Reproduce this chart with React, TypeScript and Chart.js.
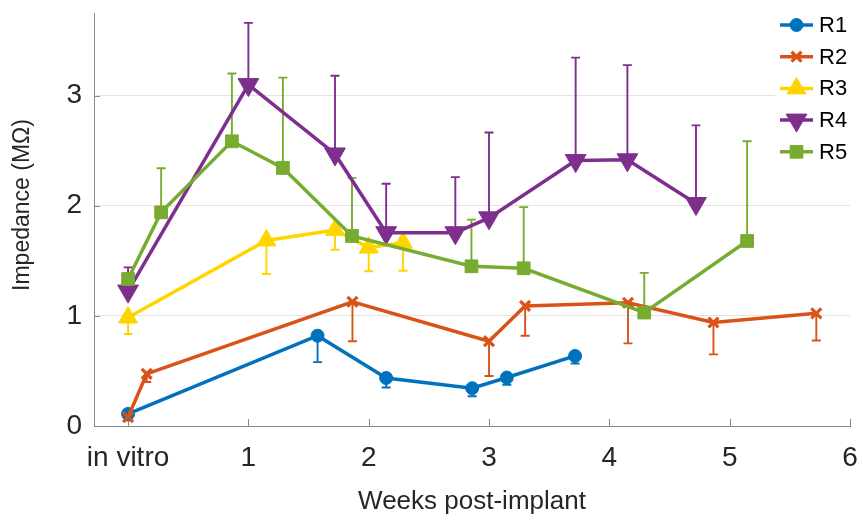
import { useEffect, useRef } from 'react';
import { Chart, registerables } from 'chart.js';
import { drawPoint } from 'chart.js/helpers';

Chart.register(...registerables);

// Axis ticks
const weekTicks = [0, 1, 2, 3, 4, 5, 6];
const weekTickLabels = ['in vitro', '1', '2', '3', '4', '5', '6'];
const impedanceTicks = [0, 1, 2, 3];

// R1: mean impedance (MΩ) and lower error end
const r1Weeks = [0, 1.575, 2.145, 2.86, 3.148, 3.715];
const r1Mean = [0.11, 0.82, 0.436, 0.343, 0.44, 0.636];
const r1ErrEnd = [0.09, 0.58, 0.35, 0.27, 0.375, 0.567];

// R2
const r2Weeks = [0, 0.155, 1.865, 3.0, 3.3, 4.155, 4.865, 5.72];
const r2Mean = [0.08, 0.474, 1.128, 0.77, 1.09, 1.119, 0.94, 1.023];
const r2ErrEnd = [0.05, 0.4, 0.77, 0.454, 0.82, 0.75, 0.65, 0.776];

// R3
const r3Weeks = [0, 1.15, 1.72, 2.0, 2.285];
const r3Mean = [0.985, 1.685, 1.78, 1.62, 1.665];
const r3ErrEnd = [0.835, 1.38, 1.6, 1.405, 1.41];

// R4: upper error end
const r4Weeks = [0, 1.0, 1.72, 2.145, 2.72, 3.0, 3.72, 4.15, 4.72];
const r4Mean = [1.225, 3.1, 2.47, 1.755, 1.755, 1.89, 2.41, 2.417, 2.02];
const r4ErrEnd = [1.44, 3.66, 3.18, 2.2, 2.26, 2.665, 3.345, 3.277, 2.73];

// R5
const r5Weeks = [0, 0.275, 0.863, 1.287, 1.861, 2.854, 3.288, 4.29, 5.145];
const r5Mean = [1.334, 1.94, 2.585, 2.343, 1.725, 1.45, 1.432, 1.03, 1.68];
const r5ErrEnd = [1.39, 2.34, 3.2, 3.163, 2.253, 1.874, 1.987, 1.39, 2.585];

const FONT = "'Liberation Sans', Arial, Helvetica, sans-serif";
const TEXT = '#262626';
const AXIS = '#8a8a8a';
const Y_TITLE = 'Impedance (MΩ)';

type Series = {
  label: string;
  weeks: number[];
  mean: number[];
  errEnd: number[];
  color: string;
  pointStyle: string;
  radius: number;
  rotation: number;
  pointBorder: number;
};

const series: Series[] = [
  { label: 'R1', weeks: r1Weeks, mean: r1Mean, errEnd: r1ErrEnd, color: '#0072BD', pointStyle: 'circle', radius: 6.5, rotation: 0, pointBorder: 1 },
  { label: 'R2', weeks: r2Weeks, mean: r2Mean, errEnd: r2ErrEnd, color: '#D95319', pointStyle: 'crossRot', radius: 7, rotation: 0, pointBorder: 3.2 },
  { label: 'R3', weeks: r3Weeks, mean: r3Mean, errEnd: r3ErrEnd, color: '#FFD500', pointStyle: 'triangle', radius: 11, rotation: 0, pointBorder: 1 },
  { label: 'R4', weeks: r4Weeks, mean: r4Mean, errEnd: r4ErrEnd, color: '#7E2F8E', pointStyle: 'triangle', radius: 12, rotation: 180, pointBorder: 1 },
  { label: 'R5', weeks: r5Weeks, mean: r5Mean, errEnd: r5ErrEnd, color: '#77AC30', pointStyle: 'rect', radius: 9, rotation: 0, pointBorder: 1 },
];

// One-sided error bars with caps, drawn under the lines and markers
const errorBarPlugin = {
  id: 'errorBars',
  beforeDatasetsDraw(chart: any) {
    const { ctx, scales } = chart;
    const xs = scales.x;
    const ys = scales.y;
    ctx.save();
    ctx.lineWidth = 1.9;
    series.forEach((s) => {
      ctx.strokeStyle = s.color;
      s.weeks.forEach((w, j) => {
        const px = xs.getPixelForValue(w);
        const py = ys.getPixelForValue(s.mean[j]);
        const pe = ys.getPixelForValue(s.errEnd[j]);
        ctx.beginPath();
        ctx.moveTo(px, py);
        ctx.lineTo(px, pe);
        ctx.moveTo(px - 4.5, pe);
        ctx.lineTo(px + 4.5, pe);
        ctx.stroke();
      });
    });
    ctx.restore();
  },
};

// Inward tick marks on both axes, plus the y-axis title
const axisDecorPlugin = {
  id: 'axisDecor',
  beforeDatasetsDraw(chart: any) {
    const { ctx, scales, chartArea } = chart;
    ctx.save();
    ctx.strokeStyle = AXIS;
    ctx.lineWidth = 1;
    ctx.beginPath();
    impedanceTicks.forEach((v) => {
      if (v === 0) return;
      const py = Math.round(scales.y.getPixelForValue(v)) + 0.5;
      ctx.moveTo(chartArea.left, py);
      ctx.lineTo(chartArea.left + 6, py);
    });
    weekTicks.forEach((v) => {
      const px = Math.round(scales.x.getPixelForValue(v)) + 0.5;
      ctx.moveTo(px, chartArea.bottom);
      ctx.lineTo(px, chartArea.bottom - 7);
    });
    ctx.stroke();

    ctx.translate(23, 205);
    ctx.rotate(-Math.PI / 2);
    ctx.fillStyle = TEXT;
    ctx.font = `23px ${FONT}`;
    ctx.textAlign = 'center';
    ctx.textBaseline = 'middle';
    ctx.fillText(Y_TITLE, 0, 0);
    ctx.restore();
  },
};

// Legend box in the top-right corner
const legendPlugin = {
  id: 'seriesLegend',
  afterDraw(chart: any) {
    const { ctx } = chart;
    ctx.save();
    ctx.fillStyle = '#ffffff';
    ctx.fillRect(775, 4, 88, 166);
    series.forEach((s, i) => {
      const y = 25 + i * 31.7;
      ctx.strokeStyle = s.color;
      ctx.fillStyle = s.color;
      ctx.lineWidth = 3.5;
      ctx.beginPath();
      ctx.moveTo(780, y);
      ctx.lineTo(813, y);
      ctx.stroke();
      ctx.lineWidth = s.pointBorder;
      drawPoint(ctx, { pointStyle: s.pointStyle as any, radius: s.radius, rotation: s.rotation, borderWidth: s.pointBorder }, 796.5, y);
      ctx.fillStyle = '#000000';
      ctx.font = `22px ${FONT}`;
      ctx.textBaseline = 'middle';
      ctx.textAlign = 'left';
      ctx.fillText(s.label, 819, y + 1);
    });
    ctx.restore();
  },
};

export default function App() {
  const canvasRef = useRef<HTMLCanvasElement | null>(null);

  useEffect(() => {
    document.body.style.margin = '0';
    const canvas = canvasRef.current;
    if (!canvas) return;

    const datasets = series.map((s, i) => ({
      label: s.label,
      data: s.weeks.map((w, j) => ({ x: w, y: s.mean[j] })),
      borderColor: s.color,
      backgroundColor: s.color,
      borderWidth: 3.5,
      pointStyle: s.pointStyle,
      pointRadius: s.radius,
      pointRotation: s.rotation,
      pointBorderWidth: s.pointBorder,
      pointBackgroundColor: s.color,
      pointBorderColor: s.color,
      showLine: true,
      tension: 0,
      order: series.length - i,
    }));

    const chart = new Chart(canvas, {
      type: 'scatter',
      data: { datasets: datasets as any },
      options: {
        animation: false,
        responsive: false,
        events: [],
        layout: { padding: { top: 7, right: 10, left: 0, bottom: 0 } },
        plugins: {
          legend: { display: false },
          tooltip: { enabled: false },
        },
        scales: {
          x: {
            type: 'linear',
            min: -0.283,
            max: 6,
            afterBuildTicks: (scale: any) => {
              scale.ticks = weekTicks.map((v) => ({ value: v }));
            },
            afterFit: (scale: any) => {
              scale.height = 94;
              scale.paddingLeft = 0;
              scale.paddingRight = 0;
            },
            grid: { display: false, drawTicks: false },
            border: { display: true, color: AXIS, width: 1 },
            ticks: {
              autoSkip: false,
              maxRotation: 0,
              padding: 15,
              color: TEXT,
              font: { family: FONT, size: 28 },
              callback: (value: any) => {
                const idx = weekTicks.indexOf(Number(value));
                return idx >= 0 ? weekTickLabels[idx] : '';
              },
            },
            title: {
              display: true,
              text: 'Weeks post-implant',
              color: TEXT,
              font: { family: FONT, size: 26 },
              padding: { top: 0, bottom: 3 },
            },
          },
          y: {
            type: 'linear',
            min: 0,
            max: 3.75,
            afterBuildTicks: (scale: any) => {
              scale.ticks = impedanceTicks.map((v) => ({ value: v }));
            },
            afterFit: (scale: any) => {
              scale.width = 94;
              scale.paddingTop = 0;
              scale.paddingBottom = 0;
            },
            grid: {
              drawTicks: false,
              color: (c: any) => (c.tick && c.tick.value === 0 ? 'rgba(0,0,0,0)' : '#e3e3e3'),
              lineWidth: 1,
            },
            border: { display: true, color: AXIS, width: 1 },
            ticks: {
              padding: 12,
              color: TEXT,
              font: { family: FONT, size: 28 },
              callback: (value: any) => String(value),
            },
            title: { display: false },
          },
        },
      },
      plugins: [errorBarPlugin, axisDecorPlugin, legendPlugin],
    });

    return () => chart.destroy();
  }, []);

  return <canvas ref={canvasRef} width={863} height={520} />;
}
